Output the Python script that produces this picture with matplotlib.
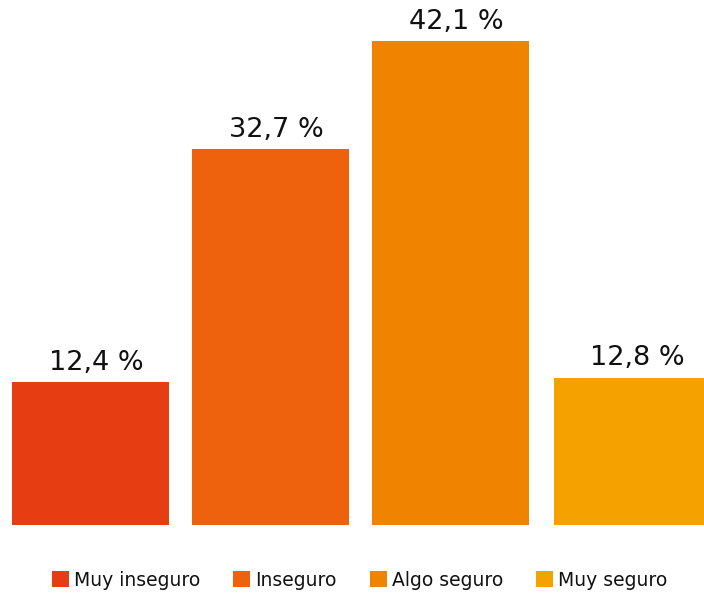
import matplotlib.pyplot as plt
from matplotlib.patches import Patch

categories = ["Muy inseguro", "Inseguro", "Algo seguro", "Muy seguro"]
values = [12.4, 32.7, 42.1, 12.8]
colors = ["#E63E12", "#EE620E", "#F08300", "#F5A100"]

plt.rcParams['font.family'] = ['DejaVu Sans']

fig = plt.figure(figsize=(7.04, 5.93), dpi=100)
ax = fig.add_axes([0, 68 / 593, 1, 525 / 593])

x = [0, 1, 2.0, 3.01]
ax.bar(x, values, width=0.872, color=colors)
for xi, v in zip(x, values):
    ax.text(xi + 0.03, v + 0.55, "{:.1f} %".format(v).replace(".", ","),
            ha="center", va="bottom", fontsize=19.5, color="#111111")

ax.set_xlim(-0.503, 3.408)
ax.set_ylim(0, 525 / 11.5)
ax.axis("off")

handles = [Patch(facecolor=c, edgecolor="none") for c in colors]
fig.legend(handles, categories, loc="center", bbox_to_anchor=(0.511, 13 / 593),
           ncol=4, frameon=False, fontsize=13.5, handlelength=0.9, handleheight=0.9,
           handletextpad=0.28, columnspacing=1.76, labelcolor="#111111")

fig.savefig("out.png", dpi=100)
